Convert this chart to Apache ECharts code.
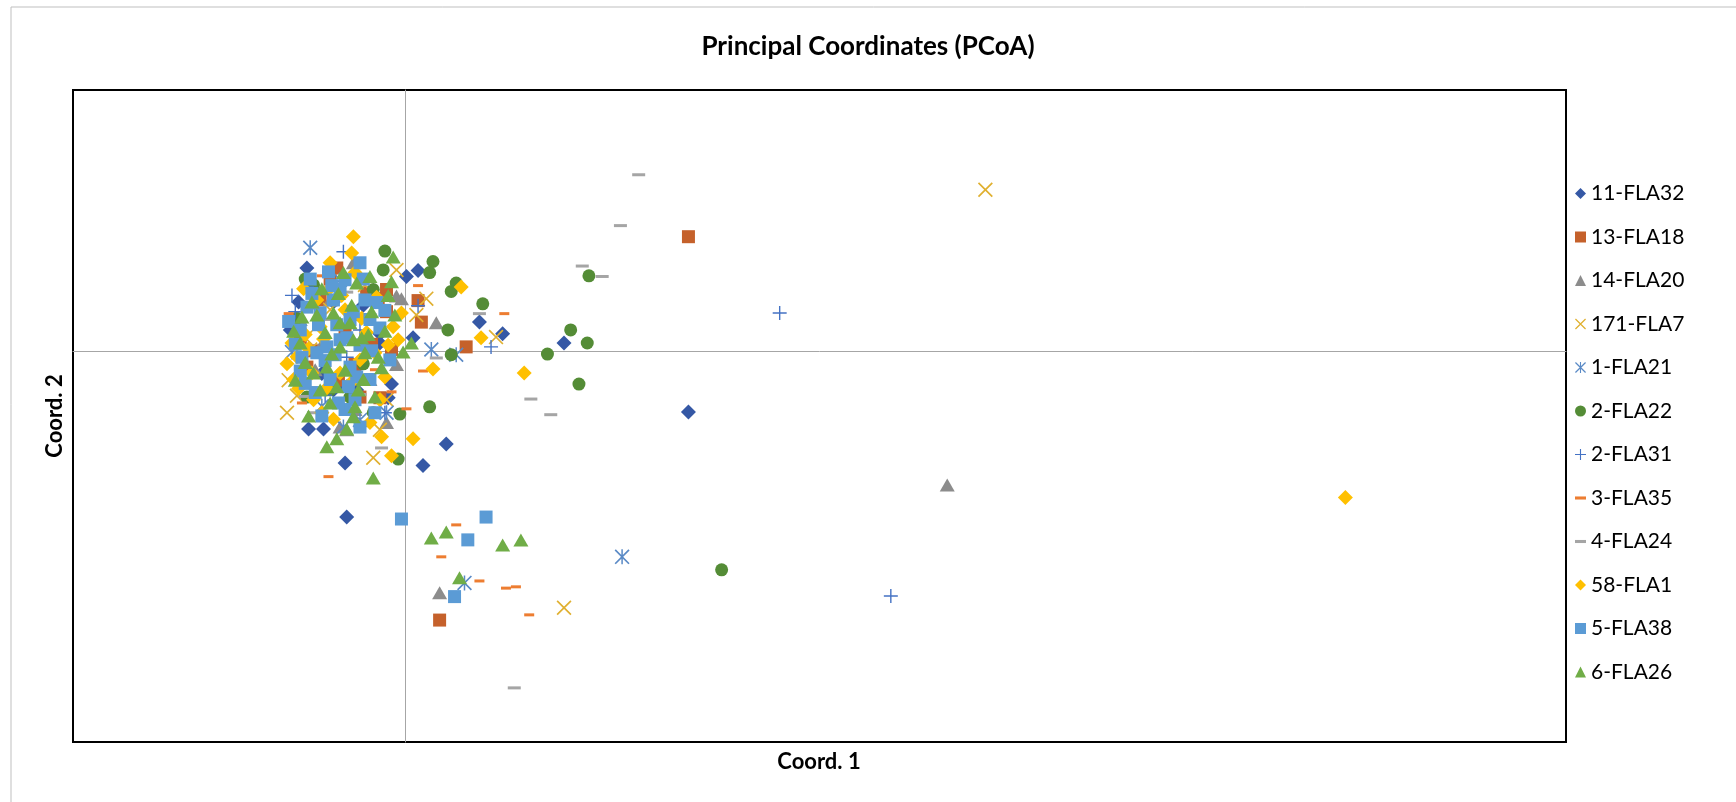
<!DOCTYPE html>
<html>
<head>
<meta charset="utf-8">
<title>PCoA</title>
<script src="https://cdn.jsdelivr.net/npm/echarts@6/dist/echarts.min.js"></script>
<style>
  html, body { margin: 0; padding: 0; background: #fff; }
  #chart { width: 1736px; height: 802px; }
</style>
</head>
<body>
<div id="chart"></div>
<script>
// series names (legend order)
var names = ['11-FLA32', '13-FLA18', '14-FLA20', '171-FLA7', '1-FLA21', '2-FLA22',
             '2-FLA31', '3-FLA35', '4-FLA24', '58-FLA1', '5-FLA38', '6-FLA26'];

// [coord1, coord2] per individual
var fla32 = [[-0.059,0.127],[0.008,0.123],[0.001,0.114],[0.045,0.044],[0.059,0.026],[0.005,0.020],[-0.008,-0.051],
  [-0.058,-0.120],[-0.049,-0.120],[0.025,-0.143],[-0.036,-0.172],[0.011,-0.176],[-0.035,-0.255],[0.171,-0.094],
  [0.096,0.012],[-0.015,0.012],[-0.035,-0.055],[-0.029,-0.060],[-0.043,-0.060],[-0.043,0.075],[-0.015,0.026],
  [-0.010,-0.072],[-0.069,0.032],[-0.064,0.075],[-0.050,-0.035],[-0.025,0.070]];
var fla18 = [[-0.041,0.127],[0.008,0.077],[0.010,0.044],[0.037,0.006],[-0.008,0.002],[-0.027,-0.071],[-0.015,-0.072],
  [-0.059,-0.025],[-0.011,0.094],[-0.023,0.089],[-0.011,0.060],[0.171,0.175],[0.021,-0.413],[-0.016,0.080],
  [-0.051,0.078],[-0.036,0.032],[-0.063,0.017],[-0.030,-0.021],[-0.055,0.000],[-0.040,-0.045],[-0.020,0.010],
  [-0.045,0.110]];
var fla20 = [[-0.031,0.135],[-0.002,0.080],[0.019,0.043],[-0.011,-0.110],[-0.035,-0.121],[-0.039,-0.117],[-0.005,-0.021],
  [0.327,-0.206],[0.021,-0.371],[-0.005,0.084],[-0.045,0.078],[-0.054,-0.029],[-0.021,-0.044],[-0.063,0.048],
  [-0.030,-0.090],[-0.050,0.010]];
var fla7 = [[-0.005,0.124],[0.013,0.080],[0.007,0.055],[0.055,0.021],[-0.065,-0.069],[-0.071,-0.095],[-0.019,-0.164],
  [-0.011,-0.075],[0.350,0.247],[0.096,-0.394],[-0.045,0.063],[-0.024,0.101],[-0.057,0.002],[-0.015,-0.121],
  [-0.070,-0.045],[-0.060,0.020]];
var fla21 = [[-0.057,0.158],[0.016,0.002],[0.031,-0.006],[-0.011,-0.095],[-0.037,-0.117],[0.131,-0.316],[0.036,-0.356],
  [-0.066,0.032],[-0.068,-0.002],[-0.039,0.109],[-0.027,-0.106],[-0.055,0.075],[-0.050,-0.085]];
var fla22 = [[-0.012,0.153],[0.017,0.137],[0.015,0.120],[0.031,0.104],[0.028,0.091],[0.047,0.072],[0.026,0.032],
  [0.028,-0.006],[0.015,-0.086],[-0.003,-0.097],[-0.004,-0.166],[-0.013,0.124],[-0.019,0.094],[-0.055,0.101],
  [-0.033,-0.071],[-0.019,-0.095],[-0.059,-0.071],[0.191,-0.336],[0.111,0.115],[0.100,0.032],[0.110,0.012],
  [0.086,-0.005],[0.105,-0.051],[-0.065,0.050],[-0.045,-0.060],[-0.025,-0.020],[-0.060,0.110]];
var fla31 = [[-0.037,0.152],[-0.059,0.098],[0.008,0.069],[-0.066,0.060],[0.052,0.006],[-0.012,-0.095],[0.226,0.058],
  [0.293,-0.376],[-0.045,0.094],[-0.027,0.032],[-0.048,-0.068],[-0.068,0.085],[-0.035,-0.010]];
var fla35 = [[0.008,0.100],[0.060,0.057],[-0.070,0.057],[0.011,-0.031],[-0.046,-0.193],[0.001,-0.089],[-0.008,-0.063],
  [0.031,-0.267],[0.022,-0.316],[0.045,-0.353],[0.061,-0.364],[0.067,-0.362],[0.075,-0.405],[-0.030,0.048],
  [-0.018,-0.029],[-0.039,-0.075],[-0.024,0.017],[-0.062,-0.080],[-0.050,0.115]];
var fla24 = [[0.045,0.057],[0.076,-0.074],[-0.014,-0.149],[0.019,-0.011],[-0.055,-0.095],[0.141,0.270],[0.130,0.192],
  [0.107,0.130],[0.119,0.114],[0.088,-0.098],[0.066,-0.517],[-0.063,-0.044],[-0.045,0.048],[-0.027,-0.067],
  [-0.060,-0.070],[-0.035,0.090]];
var fla1 = [[-0.031,0.175],[-0.032,0.150],[0.034,0.098],[-0.002,0.058],[-0.007,0.037],[0.046,0.020],[-0.004,0.017],
  [-0.071,-0.020],[0.017,-0.028],[-0.067,-0.044],[0.072,-0.034],[-0.014,-0.132],[0.005,-0.135],[-0.008,-0.161],
  [-0.050,-0.095],[-0.047,-0.057],[-0.053,0.078],[-0.046,0.094],[-0.030,0.120],[-0.010,0.009],[-0.018,-0.003],
  [-0.051,0.037],[-0.056,-0.034],[-0.039,-0.034],[-0.023,0.028],[-0.015,-0.075],[-0.065,-0.009],[0.567,-0.225],
  [-0.036,0.063],[-0.027,-0.014],[-0.060,0.025],[-0.068,0.012],[-0.061,0.095],[-0.055,-0.075],[-0.049,0.018],
  [-0.043,-0.105],[-0.038,0.085],[-0.033,-0.050],[-0.026,0.050],[-0.021,-0.110],[-0.017,0.082],[-0.012,-0.040],
  [-0.064,-0.058],[-0.045,0.135],[-0.058,0.003]];
var fla38 = [[-0.046,0.121],[-0.027,0.135],[-0.039,0.094],[-0.059,0.067],[-0.017,0.074],[-0.033,0.048],[-0.015,0.035],
  [-0.047,0.006],[-0.063,-0.031],[-0.054,-0.064],[-0.027,-0.117],[-0.033,-0.025],[-0.053,-0.003],[-0.039,0.017],
  [-0.021,0.048],[-0.051,0.058],[-0.043,0.078],[-0.002,-0.258],[0.049,-0.255],[0.038,-0.290],[0.030,-0.377],
  [-0.036,0.109],[-0.024,0.078],[-0.042,-0.006],[-0.027,0.009],[-0.009,-0.014],[-0.045,-0.044],[-0.036,-0.090],
  [-0.063,0.032],[-0.021,-0.044],[-0.030,-0.075],[-0.066,0.010],[-0.060,-0.050],[-0.052,0.040],[-0.048,-0.015],
  [-0.044,0.100],[-0.040,-0.080],[-0.035,0.020],[-0.031,0.060],[-0.029,-0.040],[-0.025,0.110],[-0.020,0.000],
  [-0.018,-0.095],[-0.056,0.088],[-0.062,-0.010],[-0.050,-0.100],[-0.041,0.040],[-0.012,0.062],[-0.034,-0.055],
  [-0.057,0.110],[-0.070,0.045]];
var fla26 = [[-0.007,0.144],[-0.008,0.106],[-0.021,0.114],[-0.029,0.104],[-0.043,0.058],[-0.006,0.055],[-0.053,0.055],
  [-0.062,0.052],[-0.039,0.043],[-0.022,0.025],[-0.033,0.043],[-0.063,0.012],[-0.039,0.006],[-0.031,0.017],
  [-0.024,-0.003],[-0.001,-0.002],[0.004,0.012],[-0.047,-0.025],[-0.025,-0.044],[-0.014,-0.026],[-0.041,-0.055],
  [-0.045,-0.080],[-0.030,-0.086],[-0.031,-0.101],[-0.018,-0.071],[-0.047,-0.147],[-0.041,-0.135],[-0.019,-0.195],
  [-0.055,-0.034],[0.016,-0.287],[0.025,-0.278],[0.059,-0.298],[0.070,-0.290],[0.033,-0.348],[-0.067,0.030],
  [-0.060,-0.018],[-0.056,0.075],[-0.051,-0.060],[-0.048,0.028],[-0.044,-0.005],[-0.040,0.088],[-0.036,-0.030],
  [-0.032,0.070],[-0.028,-0.060],[-0.026,0.020],[-0.020,0.060],[-0.016,-0.010],[-0.012,0.030],[-0.050,0.095],
  [-0.058,-0.100],[-0.035,-0.120],[-0.066,-0.045],[-0.010,0.085],[-0.037,0.120]];

var allData = [fla32, fla18, fla20, fla7, fla21, fla22, fla31, fla35, fla24, fla1, fla38, fla26];

// marker shapes
var pathX = 'path://M0,8L8,0L100,92L92,100Z M92,0L100,8L8,100L0,92Z';
var pathStar = 'path://M0,8L8,0L100,92L92,100Z M92,0L100,8L8,100L0,92Z M45,0L55,0L55,100L45,100Z';
var pathPlus = 'path://M0,45L100,45L100,55L0,55Z M45,0L55,0L55,100L45,100Z';
var pathDash = 'path://M0,0L100,0L100,28L0,28Z';

var symbols = ['diamond', 'rect', 'triangle', pathX, pathStar, 'circle', pathPlus, pathDash, pathDash, 'diamond', 'rect', 'triangle'];
var sizes = [[15,15], [13,13], [15,13], [15,15], [15,15], [13,13], [14,14], [10,3], [13,3], [15,15], [13,13], [15,13]];
var colors = ['#3558A5', '#C5612B', '#8C8C8C', '#E0B030', '#5A8AC6', '#548C36',
              '#4472C4', '#ED7D31', '#A5A5A5', '#FFC000', '#5B9BD5', '#70AD47'];

var seriesList = [];
for (var i = 0; i < names.length; i++) {
  seriesList.push({
    name: names[i],
    type: 'scatter',
    data: allData[i],
    symbol: symbols[i],
    symbolSize: sizes[i],
    symbolKeepAspect: false,
    itemStyle: { color: colors[i], opacity: 1 },
    emphasis: { disabled: true },
    animation: false
  });
}

var myChart = echarts.init(document.getElementById('chart'));
var option = {
  backgroundColor: '#fff',
  animation: false,
  textStyle: { fontFamily: 'Lato' },
  title: {
    text: 'Principal Coordinates (PCoA)',
    left: 'center',
    top: 29,
    textStyle: { fontFamily: 'Lato', fontSize: 26, fontWeight: 'bold', color: '#000' }
  },
  legend: {
    orient: 'vertical',
    left: 1570,
    top: 178,
    itemWidth: 11,
    itemHeight: 11,
    itemGap: 22.5,
    data: names,
    textStyle: { fontFamily: 'Lato', fontSize: 21, color: '#000' }
  },
  grid: {
    left: 73, right: 170, top: 90, bottom: 60,
    show: true,
    borderColor: '#000',
    borderWidth: 2,
    backgroundColor: 'transparent'
  },
  xAxis: {
    type: 'value',
    min: -0.2, max: 0.7,
    axisLine: { show: true, onZero: true, lineStyle: { color: '#A6A6A6', width: 1 } },
    axisTick: { show: false },
    axisLabel: { show: false },
    splitLine: { show: false }
  },
  yAxis: {
    type: 'value',
    min: -0.6, max: 0.4,
    axisLine: { show: true, onZero: true, lineStyle: { color: '#A6A6A6', width: 1 } },
    axisTick: { show: false },
    axisLabel: { show: false },
    splitLine: { show: false }
  },
  graphic: [
    // outer chart frame (top and left edges visible)
    { type: 'line', shape: { x1: 11, y1: 7, x2: 1736, y2: 7 }, style: { stroke: '#BFBFBF', lineWidth: 1 } },
    { type: 'line', shape: { x1: 11, y1: 7, x2: 11, y2: 802 }, style: { stroke: '#BFBFBF', lineWidth: 1 } },
    // axis titles
    { type: 'text', x: 819, y: 762, style: { text: 'Coord. 1', fontFamily: 'Lato', fontSize: 22, fontWeight: 'bold',
      fill: '#000', align: 'center', verticalAlign: 'middle' } },
    { type: 'text', x: 55, y: 416, rotation: Math.PI / 2, style: { text: 'Coord. 2', fontFamily: 'Lato', fontSize: 22,
      fontWeight: 'bold', fill: '#000', align: 'center', verticalAlign: 'middle' } }
  ],
  series: seriesList
};
myChart.setOption(option);
</script>
</body>
</html>
